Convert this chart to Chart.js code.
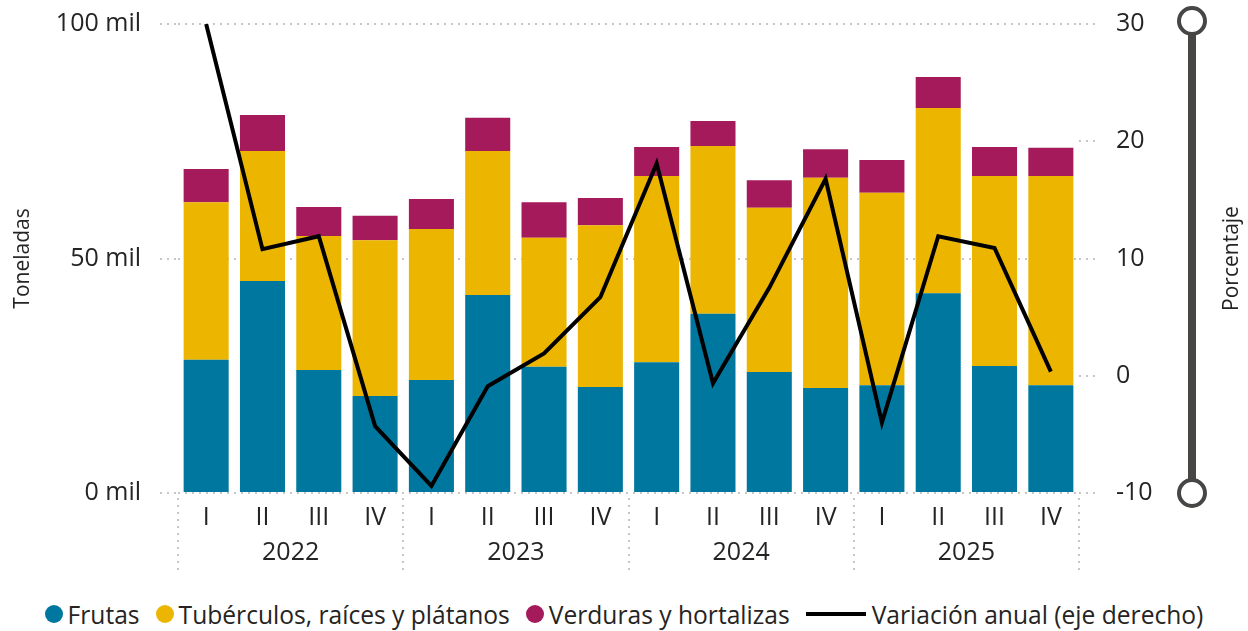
<!DOCTYPE html>
<html>
<head>
<meta charset="utf-8">
<script src="https://cdn.jsdelivr.net/npm/chart.js"></script>
<style>
  html, body { margin: 0; padding: 0; background: #fff; }
  #wrap { position: relative; width: 1248px; height: 631px; font-family: 'Open Sans', sans-serif; }
  #chart { position: absolute; left: 0; top: 0; }
  #legend { position: absolute; left: 0; top: 598px; width: 1248px; height: 32px;
    display: flex; justify-content: center; align-items: center; font-size: 24.6px; color: #252423; white-space: nowrap; }
  .item { display: inline-flex; align-items: center; margin: 0 8px; }
  .dot { width: 18px; height: 18px; border-radius: 50%; margin-right: 5px; }
  .line { width: 60px; height: 4px; margin-right: 6px; }
</style>
</head>
<body>
<div id="wrap">
  <canvas id="chart" width="1248" height="590"></canvas>
  <div id="legend"></div>
</div>
<script>
const quarters = ['I', 'II', 'III', 'IV', 'I', 'II', 'III', 'IV', 'I', 'II', 'III', 'IV', 'I', 'II', 'III', 'IV'];
const years = ['2022', '2023', '2024', '2025'];

// miles de toneladas
const frutas = [28.4, 45.2, 26.2, 20.7, 24.1, 42.2, 26.9, 22.6, 27.9, 38.2, 25.8, 22.4, 23.0, 42.6, 27.1, 23.0];
const tuberculos = [33.6, 27.7, 28.6, 33.2, 32.2, 30.7, 27.5, 34.5, 39.7, 35.8, 35.0, 44.8, 41.0, 39.5, 40.5, 44.6];
const verduras = [7.1, 7.7, 6.2, 5.2, 6.4, 7.1, 7.6, 5.8, 6.2, 5.3, 5.9, 6.1, 7.0, 6.6, 6.2, 6.0];
// porcentaje
const variacion = [30.0, 10.8, 11.9, -4.3, -9.4, -0.9, 1.9, 6.7, 18.1, -0.65, 7.5, 16.8, -4.0, 11.9, 10.9, 0.35];

const leftTicks = [0, 50, 100];
const rightTicks = [-10, 0, 10, 20, 30];

const FONT = "'Open Sans', sans-serif";
const TXT = '#252423';
const GRID = '#C8C6C4';

const extras = {
    id: 'extras',
    afterDraw(chart) {
        const ctx = chart.ctx;
        const area = chart.chartArea;
        const x = chart.scales.x;
        const half = (x.getPixelForValue(1) - x.getPixelForValue(0)) / 2;

        // separadores de año
        ctx.save();
        ctx.strokeStyle = GRID;
        ctx.lineWidth = 2;
        ctx.setLineDash([2, 5]);
        for (let i = 0; i <= quarters.length; i += 4) {
            const px = Math.round(x.getPixelForValue(Math.min(i, quarters.length - 1)) + (i === quarters.length ? half : -half));
            ctx.beginPath();
            ctx.moveTo(px, area.bottom + 5);
            ctx.lineTo(px, area.bottom + 80);
            ctx.stroke();
        }
        ctx.restore();

        // titulo eje derecho
        ctx.save();
        ctx.fillStyle = TXT;
        ctx.font = '21px ' + FONT;
        ctx.textAlign = 'center';
        ctx.textBaseline = 'middle';
        ctx.translate(1232, (area.top + area.bottom) / 2);
        ctx.rotate(-Math.PI / 2);
        ctx.fillText('Porcentaje', 0, 0);
        ctx.restore();

        // deslizador
        const sx = area.right + 113;
        const y1 = area.top - 3, y2 = area.bottom;
        ctx.save();
        ctx.strokeStyle = '#484644';
        ctx.lineWidth = 8;
        ctx.beginPath();
        ctx.moveTo(sx, y1);
        ctx.lineTo(sx, y2);
        ctx.stroke();
        ctx.lineWidth = 4;
        ctx.fillStyle = '#fff';
        [y1, y2].forEach(cy => {
            ctx.beginPath();
            ctx.arc(sx, cy, 13, 0, Math.PI * 2);
            ctx.fill();
            ctx.stroke();
        });
        ctx.restore();
    }
};

const ctx = document.getElementById('chart').getContext('2d');
const chart = new Chart(ctx, {
    type: 'bar',
    data: {
        labels: quarters,
        datasets: [
            {
                type: 'line',
                label: 'Variación anual (eje derecho)',
                data: variacion,
                yAxisID: 'y2',
                borderColor: '#000000',
                backgroundColor: '#000000',
                borderWidth: 4,
                pointRadius: 0,
                tension: 0,
                order: 0
            },
            { label: 'Frutas', data: frutas, backgroundColor: '#00779F', stack: 's', order: 1 },
            { label: 'Tubérculos, raíces y plátanos', data: tuberculos, backgroundColor: '#EBB500', stack: 's', order: 1 },
            { label: 'Verduras y hortalizas', data: verduras, backgroundColor: '#A41A5A', stack: 's', order: 1 }
        ]
    },
    options: {
        responsive: false,
        animation: false,
        layout: { padding: { top: 24, left: 0, right: 0, bottom: 0 } },
        datasets: { bar: { categoryPercentage: 1, barPercentage: 0.8 } },
        plugins: { legend: { display: false }, tooltip: { enabled: false } },
        scales: {
            x: {
                stacked: true,
                grid: { display: false },
                border: { display: false },
                ticks: { color: TXT, font: { family: FONT, size: 25 }, padding: 2, maxRotation: 0, autoSkip: false },
                afterFit: s => { s.height = 40; }
            },
            x2: {
                type: 'category',
                labels: years,
                position: 'bottom',
                offset: true,
                grid: { display: false },
                border: { display: false },
                ticks: { color: TXT, font: { family: FONT, size: 25 }, padding: -3 },
                afterFit: s => { s.height = 57; }
            },
            y: {
                stacked: true,
                position: 'left',
                min: 0,
                max: 100,
                afterBuildTicks: s => { s.ticks = leftTicks.map(v => ({ value: v })); },
                grid: { color: GRID, lineWidth: 2, tickLength: 18, tickColor: GRID, tickBorderDash: [2, 5] },
                border: { display: false, dash: [2, 5] },
                ticks: { color: TXT, font: { family: FONT, size: 25 }, padding: 19, callback: v => v + ' mil' },
                title: { display: true, text: 'Toneladas', color: TXT, font: { family: FONT, size: 21 }, padding: { top: 10, bottom: 0 } },
                afterFit: s => { s.width = 178; s.paddingTop = 0; s.paddingBottom = 0; }
            },
            y2: {
                position: 'right',
                min: -10,
                max: 30,
                afterBuildTicks: s => { s.ticks = rightTicks.map(v => ({ value: v })); },
                grid: { drawOnChartArea: false, color: GRID, lineWidth: 2, tickLength: 18, tickColor: GRID, tickBorderDash: [2, 5] },
                border: { display: false },
                ticks: { color: TXT, font: { family: FONT, size: 25 }, padding: 19 },
                afterFit: s => { s.width = 169; s.paddingTop = 0; s.paddingBottom = 0; }
            }
        }
    },
    plugins: [extras]
});

// leyenda HTML a partir de los datasets del grafico
const legend = document.getElementById('legend');
[1, 2, 3, 0].forEach(i => {
    const ds = chart.data.datasets[i];
    const item = document.createElement('span');
    item.className = 'item';
    const mark = document.createElement('span');
    mark.className = ds.type === 'line' ? 'line' : 'dot';
    mark.style.background = ds.type === 'line' ? ds.borderColor : ds.backgroundColor;
    item.appendChild(mark);
    item.appendChild(document.createTextNode(ds.label));
    legend.appendChild(item);
});
</script>
</body>
</html>
